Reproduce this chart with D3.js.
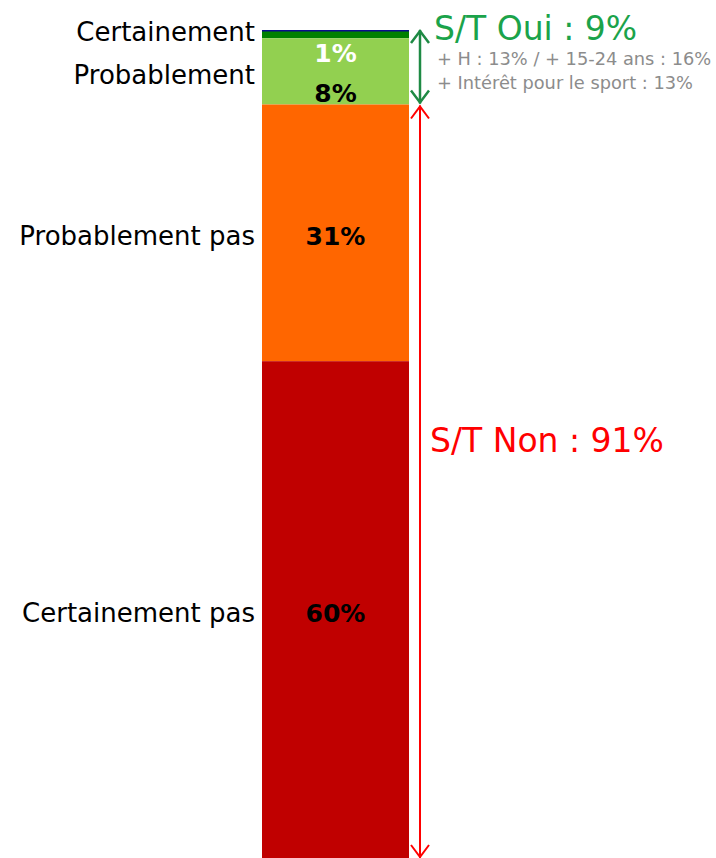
<!DOCTYPE html>
<html lang="fr">
<head>
    <title>Intention</title>
    <script src="https://d3js.org/d3.v7.min.js"></script>
    <style>
        body{
            margin: 0;
            background: #fff;
        }
        text{
            font-family: "DejaVu Sans", Verdana, sans-serif;
        }
        text.cat{
            font-size: 26px;
            fill: #000;
            text-anchor: end;
        }
        text.pct{
            font-size: 25px;
            font-weight: bold;
            text-anchor: middle;
        }
        text.group{
            font-size: 33px;
        }
        text.note{
            font-size: 17.8px;
            fill: #8c8c8c;
        }
    </style>
</head>
<body>
    <div id="my_dataviz"></div>
    <script>

    // data
    var categories = ["Certainement", "Probablement", "Probablement pas", "Certainement pas"]
    var values = [1, 8, 31, 60]
    var colors = ["#008000", "#92d050", "#ff6600", "#c00000"]
    var pctColors = ["#ffffff", "#000000", "#000000", "#000000"]

    var groupLabels = ["S/T Oui : 9%", "S/T Non : 91%"]
    var groupSpans = [[0, 9], [9, 100]]
    var groupColors = ["#1ba34a", "#ff0000"]
    var arrowColors = ["#1e8a44", "#ff0000"]
    var notes = ["+ H : 13% / + 15-24 ans : 16%", "+ Intérêt pour le sport : 13%"]

    var width = 716
    var height = 858

    var svg = d3.select("#my_dataviz")
      .append("svg")
        .attr("width", width)
        .attr("height", height)

    var y = d3.scaleLinear().domain([0, 100]).range([30, height])
    var x = d3.scaleBand().domain(["all"]).range([262, 409]).padding(0)

    var ends = d3.cumsum(values)
    var data = categories.map(function(c, i){
        return {cat: c, v: values[i], y0: ends[i] - values[i], y1: ends[i], i: i}
    })

    // bar segments
    svg.append("g")
      .selectAll("rect")
      .data(data)
      .enter()
      .append("rect")
        .attr("x", x("all"))
        .attr("width", x.bandwidth())
        .attr("y", d => y(d.y0))
        .attr("height", d => y(d.y1) - y(d.y0))
        .attr("fill", (d, i) => colors[i])

    // thin navy rule on top of the bar
    svg.append("line")
        .attr("x1", x("all")).attr("x2", x("all") + x.bandwidth())
        .attr("y1", y(0) + 0.75).attr("y2", y(0) + 0.75)
        .attr("stroke", "#0b0b8c")
        .attr("stroke-width", 1.5)

    // category labels on the left
    var catY = function(d){
        if (d.i == 0) return y(d.y0) + 11
        if (d.i == 1) return y(d.y1) - 21
        return (y(d.y0) + y(d.y1)) / 2 + 12
    }
    svg.append("g")
      .selectAll("text")
      .data(data)
      .enter()
      .append("text")
        .attr("class", "cat")
        .attr("x", x("all") - 7)
        .attr("y", catY)
        .text(d => d.cat)

    // percent labels in the bar
    var pctY = function(d){
        if (d.i == 0) return y(d.y1) + 24
        if (d.i == 1) return y(d.y1) - 3
        return (y(d.y0) + y(d.y1)) / 2 + 12
    }
    svg.append("g")
      .selectAll("text")
      .data(data)
      .enter()
      .append("text")
        .attr("class", "pct")
        .attr("x", x("all") + x.bandwidth() / 2)
        .attr("y", pctY)
        .attr("fill", (d, i) => pctColors[i])
        .text(d => d.v + "%")

    // double arrows for the two groups
    var ax = 420
    groupSpans.forEach(function(s, i){
        var top = y(s[0]) + (i == 0 ? 0 : 1)
        var bot = y(s[1]) - (i == 0 ? 1 : 0)
        var g = svg.append("g")
            .attr("stroke", arrowColors[i])
            .attr("stroke-width", i == 0 ? 2.5 : 2)
            .attr("fill", "none")
        g.append("line")
            .attr("x1", ax).attr("x2", ax)
            .attr("y1", top).attr("y2", bot)
        g.append("path")
            .attr("d", d3.line()([[ax - 9, top + 13], [ax, top + 1], [ax + 9, top + 13]]))
        g.append("path")
            .attr("d", d3.line()([[ax - 9, bot - 13], [ax, bot - 1], [ax + 9, bot - 13]]))
    })

    // group labels
    svg.append("text")
        .attr("class", "group")
        .attr("x", 434)
        .attr("y", 40)
        .attr("fill", groupColors[0])
        .text(groupLabels[0])

    svg.append("text")
        .attr("class", "group")
        .attr("x", 430)
        .attr("y", 452)
        .attr("fill", groupColors[1])
        .text(groupLabels[1])

    svg.append("g")
      .selectAll("text")
      .data(notes)
      .enter()
      .append("text")
        .attr("class", "note")
        .attr("x", 437)
        .attr("y", (d, i) => 65 + i * 24)
        .text(d => d)

    </script>
</body>
</html>
